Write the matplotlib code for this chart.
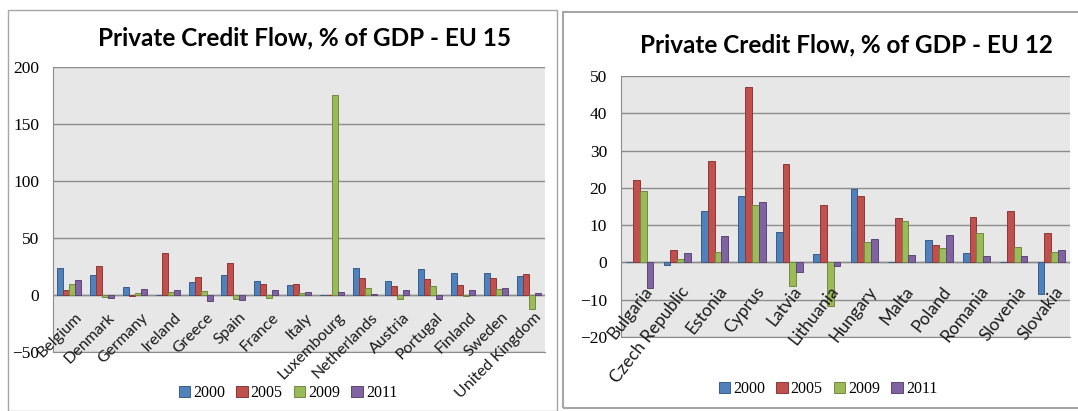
import numpy as np
import matplotlib.pyplot as plt
from matplotlib.patches import Rectangle

# Dados: fluxo de crédito privado, % do PIB
anos = ['2000', '2005', '2009', '2011']

paises_eu15 = ['Belgium', 'Denmark', 'Germany', 'Ireland', 'Greece', 'Spain',
               'France', 'Italy', 'Luxembourg', 'Netherlands', 'Austria',
               'Portugal', 'Finland', 'Sweden', 'United Kingdom']
eu15_2000 = [23.4, 17.5, 7.3, 0, 11.4, 17.5, 12.3, 8.8, 0, 23.4, 12.3, 22.5, 19.0, 19.0, 16.7]
eu15_2005 = [4.4, 25.1, -1.0, 37.1, 15.8, 27.8, 9.6, 9.6, 0, 14.9, 7.9, 14.0, 8.8, 14.9, 18.1]
eu15_2009 = [9.6, -1.5, 2.0, 2.6, 3.5, -3.2, -2.3, 1.8, 175.5, 6.1, -3.8, 7.9, -1.2, 5.3, -12.6]
eu15_2011 = [13.2, -3.0, 5.6, 4.4, -5.6, -4.7, 4.4, 2.6, 2.6, 0.9, 4.4, -3.8, 4.4, 6.1, 1.8]

paises_eu12 = ['Bulgaria', 'Czech Republic', 'Estonia', 'Cyprus', 'Latvia',
               'Lithuania', 'Hungary', 'Malta', 'Poland', 'Romania',
               'Slovenia', 'Slovakia']
eu12_2000 = [0, -0.8, 13.7, 17.7, 8.2, 2.2, 19.8, 0, 6.1, 2.5, 0, -8.4]
eu12_2005 = [22.1, 3.3, 27.1, 47.1, 26.4, 15.4, 17.7, 11.8, 4.6, 12.1, 13.7, 7.9]
eu12_2009 = [19.2, 0.9, 2.8, 15.4, -6.2, -11.6, 5.4, 11.2, 3.9, 7.9, 4.2, 2.8]
eu12_2011 = [-6.9, 2.5, 7.0, 16.1, -2.6, -1.0, 6.4, 2.1, 7.3, 1.8, 1.8, 3.3]

# Cores padrão do Excel 2007 (preenchimento e borda)
cores = ['#4F81BD', '#C0504D', '#9BBB59', '#8064A2']
bordas = ['#385D8A', '#8C3836', '#71893F', '#5C4776']

fonte_titulo = ['Lato', 'DejaVu Sans']
fonte_num = ['Liberation Serif', 'DejaVu Serif']
fonte_cat = ['Lato', 'DejaVu Sans']

fig = plt.figure(figsize=(10.78, 4.11), dpi=100)

# Molduras de cada gráfico
fig.patches.append(Rectangle((8/1078, 0), 549/1078, 1 - 10/411, transform=fig.transFigure,
                             facecolor='none', edgecolor='#A6A6A6', lw=1))
fig.patches.append(Rectangle((563/1078, 3/411), 520/1078, 1 - 15/411, transform=fig.transFigure,
                             facecolor='none', edgecolor='#A6A6A6', lw=1.5))


def grafico(pos, paises, series, ylim, passo, titulo, pos_titulo, pos_leg,
            rot, desloc, tam_cat):
    ax = fig.add_axes(pos)
    ax.set_facecolor('#E7E7E7')
    n = len(paises)
    x = np.arange(n)
    larg = 1 / 5.5
    for k, serie in enumerate(series):
        ax.bar(x + (k - 1.5) * larg, serie, width=larg, color=cores[k],
               edgecolor=bordas[k], lw=0.7, label=anos[k], zorder=3)
    ax.set_xlim(-0.5, n - 0.5)
    ax.set_ylim(*ylim)
    ax.set_yticks(np.arange(ylim[0], ylim[1] + 1, passo))
    ax.yaxis.grid(True, color='#8C8C8C', lw=1)
    ax.set_axisbelow(True)
    ax.axhline(0, color='#8C8C8C', lw=1, zorder=2)
    ax.set_xticks([])
    ax.tick_params(axis='y', length=0, pad=10, labelsize=12.5)
    for t in ax.get_yticklabels():
        t.set_family(fonte_num)
    for lado in ['top', 'right']:
        ax.spines[lado].set_visible(False)
    ax.spines['left'].set_color('#8C8C8C')
    ax.spines['bottom'].set_color('#8C8C8C')

    # Rótulos das categorias, inclinados, abaixo do eixo zero
    for i, nome in enumerate(paises):
        ax.annotate(nome, xy=(i, 0), xytext=desloc, textcoords='offset points',
                    ha='right', va='top', rotation=rot, rotation_mode='anchor',
                    fontsize=tam_cat, family=fonte_cat, color='#1A1A1A')

    fig.text(pos_titulo[0], pos_titulo[1], titulo, ha='center', va='center',
             fontsize=17.5, fontweight='bold', family=fonte_titulo)
    fig.legend(*ax.get_legend_handles_labels(), loc='center',
               bbox_to_anchor=pos_leg, ncol=4, frameon=False,
               prop={'family': fonte_num, 'size': 11.5}, handlelength=0.7,
               handleheight=0.7, handletextpad=0.2, columnspacing=0.7)
    return ax


grafico([53/1078, 59/411, 492/1078, 285/411], paises_eu15,
        [eu15_2000, eu15_2005, eu15_2009, eu15_2011], (-50, 200), 50,
        'Private Credit Flow, % of GDP - EU 15', (305/1078, 1 - 38/411),
        (288/1078, 1 - 393/411), 45, (4, -11), 11.5)

grafico([621/1078, 74/411, 449/1078, 261/411], paises_eu12,
        [eu12_2000, eu12_2005, eu12_2009, eu12_2011], (-20, 50), 10,
        'Private Credit Flow, % of GDP - EU 12', (846/1078, 1 - 45/411),
        (828/1078, 1 - 389/411), 52, (2, -15), 12.5)

fig.savefig('out.png', dpi=100)
